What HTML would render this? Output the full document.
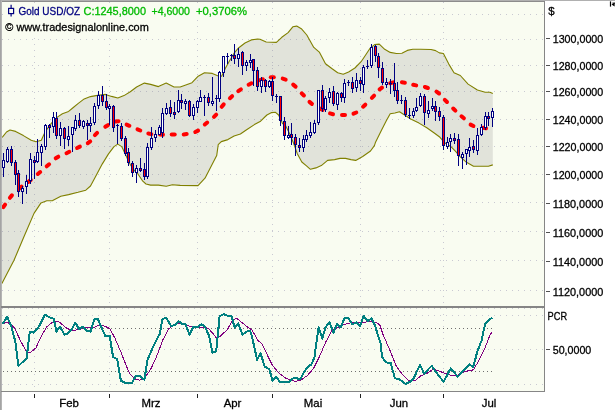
<!DOCTYPE html><html><head><meta charset="utf-8"><title>Gold USD/OZ</title>
<style>html,body{margin:0;padding:0;background:#fff;overflow:hidden}svg{display:block}text{font-family:"Liberation Sans",sans-serif;font-size:11.4px;stroke-width:0.3px;paint-order:stroke}</style></head><body>
<svg width="615" height="410" viewBox="0 0 615 410">
<rect x="0" y="0" width="615" height="410" fill="#ffffff"/>
<rect x="1" y="1" width="544" height="390.5" fill="#f9fcf1"/>
<g stroke="#c9c9d2" stroke-width="1" stroke-dasharray="1 5" shape-rendering="crispEdges"><line x1="2" x2="544" y1="14.5" y2="14.5"/><line x1="2" x2="544" y1="39.5" y2="39.5"/><line x1="2" x2="544" y1="65.5" y2="65.5"/><line x1="2" x2="544" y1="91.5" y2="91.5"/><line x1="2" x2="544" y1="119.5" y2="119.5"/><line x1="2" x2="544" y1="146.5" y2="146.5"/><line x1="2" x2="544" y1="174.5" y2="174.5"/><line x1="2" x2="544" y1="202.5" y2="202.5"/><line x1="2" x2="544" y1="231.5" y2="231.5"/><line x1="2" x2="544" y1="260.5" y2="260.5"/><line x1="2" x2="544" y1="290.5" y2="290.5"/><line x1="2" x2="544" y1="308.5" y2="308.5"/><line x1="2" x2="544" y1="315.5" y2="315.5"/><line x1="2" x2="544" y1="349.5" y2="349.5"/><line x1="2" x2="544" y1="384.5" y2="384.5"/></g>
<g stroke="#c9c9d2" stroke-width="1" stroke-dasharray="1 5" shape-rendering="crispEdges"><line x1="34.5" x2="34.5" y1="2" y2="306"/><line x1="34.5" x2="34.5" y1="314" y2="391"/><line x1="109.5" x2="109.5" y1="2" y2="306"/><line x1="109.5" x2="109.5" y1="314" y2="391"/><line x1="197.5" x2="197.5" y1="2" y2="306"/><line x1="197.5" x2="197.5" y1="314" y2="391"/><line x1="272.5" x2="272.5" y1="2" y2="306"/><line x1="272.5" x2="272.5" y1="314" y2="391"/><line x1="360.5" x2="360.5" y1="2" y2="306"/><line x1="360.5" x2="360.5" y1="314" y2="391"/><line x1="443.5" x2="443.5" y1="2" y2="306"/><line x1="443.5" x2="443.5" y1="314" y2="391"/></g>
<path d="M2.0,137.5 L3.0,136.4 L6.5,132.0 L10.0,130.0 L15.6,131.4 L23.4,135.6 L31.2,140.3 L36.0,141.8 L41.3,140.3 L45.2,131.7 L51.5,123.1 L57.7,116.9 L62.4,113.7 L68.6,111.4 L73.3,107.5 L78.0,103.6 L84.2,98.9 L90.5,96.6 L96.0,95.6 L105.4,94.4 L111.6,96.4 L117.8,98.0 L124.0,95.6 L130.3,91.7 L136.6,87.0 L144.4,83.1 L150.6,84.4 L158.4,86.6 L166.2,83.1 L174.0,87.0 L180.2,87.0 L186.5,84.7 L192.0,82.7 L198.2,76.2 L204.5,72.7 L212.3,73.4 L217.7,75.8 L221.6,76.2 L225.5,68.0 L229.4,61.0 L234.1,53.2 L238.8,47.7 L245.0,43.0 L251.3,39.9 L257.5,39.1 L260.0,39.3 L266.2,42.0 L276.4,42.4 L281.8,37.3 L288.1,32.6 L292.8,26.8 L296.7,26.1 L301.3,28.7 L306.8,35.0 L313.8,47.4 L319.3,52.1 L325.5,63.8 L331.8,68.5 L337.7,72.7 L343.2,74.2 L348.6,72.0 L354.9,68.0 L361.1,61.7 L365.8,54.7 L369.9,48.5 L374.6,44.6 L379.3,44.1 L384.7,49.3 L390.2,52.4 L396.4,53.5 L401.9,53.2 L407.3,50.4 L412.8,49.3 L420.6,49.3 L431.0,49.5 L435.6,50.6 L439.4,52.9 L443.4,53.5 L448.8,64.1 L454.0,72.8 L460.3,75.5 L468.1,84.1 L477.4,90.0 L485.2,92.2 L489.9,92.3 L492.8,93.4 L492.8,164.9 L488.4,166.2 L480.6,166.2 L473.5,166.2 L466.5,162.3 L460.3,156.8 L455.6,151.3 L450.9,146.7 L444.7,142.8 L440.0,137.3 L434.6,133.2 L426.8,127.8 L419.0,123.1 L411.2,119.2 L405.0,115.3 L399.5,111.7 L394.9,113.0 L390.2,113.7 L386.3,120.8 L381.6,130.1 L375.4,142.6 L374.4,145.6 L370.5,151.0 L362.7,156.5 L355.7,160.4 L351.0,159.6 L345.5,158.4 L340.0,158.4 L334.6,159.6 L327.6,160.4 L321.3,165.6 L315.9,167.9 L310.4,169.3 L306.5,165.9 L301.8,162.0 L297.2,153.4 L293.3,142.5 L289.4,133.3 L285.5,125.5 L282.5,123.5 L278.6,115.0 L275.5,112.3 L271.6,112.6 L266.9,115.0 L260.6,121.2 L254.4,124.6 L246.6,129.8 L240.4,134.0 L234.1,136.0 L227.9,139.6 L221.3,141.6 L218.2,144.7 L216.7,155.6 L205.0,178.2 L198.0,185.6 L180.2,185.4 L172.4,184.7 L166.2,186.2 L158.4,185.1 L150.6,185.1 L146.0,184.0 L142.8,181.2 L138.1,174.2 L133.4,169.5 L129.5,163.3 L125.6,154.7 L121.7,146.6 L117.8,144.1 L114.0,146.6 L108.5,153.9 L102.2,164.1 L96.0,175.8 L90.5,186.0 L85.8,190.2 L78.0,192.3 L68.6,194.6 L60.8,196.2 L52.7,200.6 L46.8,200.7 L41.0,202.9 L34.0,213.4 L23.4,238.0 L14.0,260.3 L2.8,281.8 L2.0,283.5Z" fill="#808080" fill-opacity="0.2" stroke="none"/>
<path d="M2.0,137.5 L3.0,136.4 L6.5,132.0 L10.0,130.0 L15.6,131.4 L23.4,135.6 L31.2,140.3 L36.0,141.8 L41.3,140.3 L45.2,131.7 L51.5,123.1 L57.7,116.9 L62.4,113.7 L68.6,111.4 L73.3,107.5 L78.0,103.6 L84.2,98.9 L90.5,96.6 L96.0,95.6 L105.4,94.4 L111.6,96.4 L117.8,98.0 L124.0,95.6 L130.3,91.7 L136.6,87.0 L144.4,83.1 L150.6,84.4 L158.4,86.6 L166.2,83.1 L174.0,87.0 L180.2,87.0 L186.5,84.7 L192.0,82.7 L198.2,76.2 L204.5,72.7 L212.3,73.4 L217.7,75.8 L221.6,76.2 L225.5,68.0 L229.4,61.0 L234.1,53.2 L238.8,47.7 L245.0,43.0 L251.3,39.9 L257.5,39.1 L260.0,39.3 L266.2,42.0 L276.4,42.4 L281.8,37.3 L288.1,32.6 L292.8,26.8 L296.7,26.1 L301.3,28.7 L306.8,35.0 L313.8,47.4 L319.3,52.1 L325.5,63.8 L331.8,68.5 L337.7,72.7 L343.2,74.2 L348.6,72.0 L354.9,68.0 L361.1,61.7 L365.8,54.7 L369.9,48.5 L374.6,44.6 L379.3,44.1 L384.7,49.3 L390.2,52.4 L396.4,53.5 L401.9,53.2 L407.3,50.4 L412.8,49.3 L420.6,49.3 L431.0,49.5 L435.6,50.6 L439.4,52.9 L443.4,53.5 L448.8,64.1 L454.0,72.8 L460.3,75.5 L468.1,84.1 L477.4,90.0 L485.2,92.2 L489.9,92.3 L492.8,93.4" fill="none" stroke="#808000" stroke-width="1.1" stroke-linejoin="round"/>
<path d="M2.0,283.5 L2.8,281.8 L14.0,260.3 L23.4,238.0 L34.0,213.4 L41.0,202.9 L46.8,200.7 L52.7,200.6 L60.8,196.2 L68.6,194.6 L78.0,192.3 L85.8,190.2 L90.5,186.0 L96.0,175.8 L102.2,164.1 L108.5,153.9 L114.0,146.6 L117.8,144.1 L121.7,146.6 L125.6,154.7 L129.5,163.3 L133.4,169.5 L138.1,174.2 L142.8,181.2 L146.0,184.0 L150.6,185.1 L158.4,185.1 L166.2,186.2 L172.4,184.7 L180.2,185.4 L198.0,185.6 L205.0,178.2 L216.7,155.6 L218.2,144.7 L221.3,141.6 L227.9,139.6 L234.1,136.0 L240.4,134.0 L246.6,129.8 L254.4,124.6 L260.6,121.2 L266.9,115.0 L271.6,112.6 L275.5,112.3 L278.6,115.0 L282.5,123.5 L285.5,125.5 L289.4,133.3 L293.3,142.5 L297.2,153.4 L301.8,162.0 L306.5,165.9 L310.4,169.3 L315.9,167.9 L321.3,165.6 L327.6,160.4 L334.6,159.6 L340.0,158.4 L345.5,158.4 L351.0,159.6 L355.7,160.4 L362.7,156.5 L370.5,151.0 L374.4,145.6 L375.4,142.6 L381.6,130.1 L386.3,120.8 L390.2,113.7 L394.9,113.0 L399.5,111.7 L405.0,115.3 L411.2,119.2 L419.0,123.1 L426.8,127.8 L434.6,133.2 L440.0,137.3 L444.7,142.8 L450.9,146.7 L455.6,151.3 L460.3,156.8 L466.5,162.3 L473.5,166.2 L480.6,166.2 L488.4,166.2 L492.8,164.9" fill="none" stroke="#808000" stroke-width="1.1" stroke-linejoin="round"/>
<g stroke="#ff0000" stroke-width="4" stroke-linecap="round"><line x1="3.3" y1="207.2" x2="5.1" y2="204.6"/><line x1="9.9" y1="197.8" x2="11.9" y2="195.4"/><line x1="19.1" y1="188.6" x2="21.5" y2="186.6"/><line x1="28.4" y1="181.9" x2="30.8" y2="179.9"/><line x1="37.8" y1="174.0" x2="40.2" y2="172.0"/><line x1="46.7" y1="166.3" x2="49.1" y2="164.3"/><line x1="55.7" y1="158.3" x2="58.3" y2="156.7"/><line x1="66.5" y1="153.2" x2="69.3" y2="151.8"/><line x1="77.1" y1="148.0" x2="79.9" y2="146.6"/><line x1="87.8" y1="143.2" x2="90.2" y2="141.4"/><line x1="94.9" y1="135.1" x2="97.1" y2="132.9"/><line x1="105.3" y1="126.8" x2="107.9" y2="125.2"/><line x1="115.5" y1="121.4" x2="118.5" y2="121.2"/><line x1="126.6" y1="124.6" x2="129.4" y2="125.8"/><line x1="137.5" y1="129.3" x2="140.3" y2="130.5"/><line x1="148.3" y1="133.5" x2="151.3" y2="134.1"/><line x1="160.0" y1="134.5" x2="163.0" y2="134.7"/><line x1="171.7" y1="134.6" x2="174.7" y2="134.6"/><line x1="183.7" y1="134.5" x2="186.7" y2="134.1"/><line x1="195.3" y1="132.0" x2="198.1" y2="130.6"/><line x1="204.8" y1="124.5" x2="207.2" y2="122.5"/><line x1="214.0" y1="116.8" x2="216.2" y2="114.6"/><line x1="221.7" y1="106.8" x2="223.7" y2="104.4"/><line x1="229.9" y1="98.2" x2="232.1" y2="96.2"/><line x1="238.3" y1="91.2" x2="240.9" y2="89.4"/><line x1="248.6" y1="84.7" x2="251.4" y2="83.3"/><line x1="259.9" y1="80.1" x2="262.9" y2="79.3"/><line x1="270.8" y1="77.3" x2="273.8" y2="77.3"/><line x1="282.7" y1="78.6" x2="285.7" y2="79.6"/><line x1="293.2" y1="84.6" x2="295.6" y2="86.6"/><line x1="301.7" y1="93.3" x2="303.9" y2="95.5"/><line x1="309.5" y1="101.9" x2="311.9" y2="103.9"/><line x1="319.9" y1="108.5" x2="322.7" y2="109.9"/><line x1="330.0" y1="113.4" x2="333.0" y2="114.2"/><line x1="342.0" y1="115.1" x2="345.0" y2="115.1"/><line x1="353.5" y1="113.7" x2="356.3" y2="112.5"/><line x1="363.1" y1="106.7" x2="365.3" y2="104.7"/><line x1="371.9" y1="97.8" x2="374.1" y2="95.6"/><line x1="379.6" y1="89.4" x2="382.0" y2="87.6"/><line x1="390.2" y1="83.2" x2="393.2" y2="82.4"/><line x1="401.9" y1="82.3" x2="404.9" y2="82.7"/><line x1="413.2" y1="84.8" x2="416.2" y2="85.4"/><line x1="424.9" y1="87.0" x2="427.9" y2="88.0"/><line x1="436.5" y1="91.7" x2="439.1" y2="93.5"/><line x1="444.8" y1="99.8" x2="447.0" y2="102.0"/><line x1="453.2" y1="108.5" x2="455.4" y2="110.7"/><line x1="461.5" y1="116.3" x2="463.9" y2="118.3"/><line x1="470.6" y1="124.6" x2="473.4" y2="126.0"/><line x1="483.0" y1="127.7" x2="486.0" y2="128.3"/></g>
<g shape-rendering="crispEdges"><rect x="3" y="153" width="1" height="24" fill="#000080"/><rect x="2" y="160" width="3" height="8" fill="#000080"/><rect x="3" y="161" width="1" height="6" fill="#ffffff"/><rect x="7" y="147" width="1" height="16" fill="#000080"/><rect x="6" y="149" width="3" height="13" fill="#000080"/><rect x="7" y="150" width="1" height="11" fill="#ffffff"/><rect x="11" y="146" width="1" height="20" fill="#000080"/><rect x="10" y="149" width="3" height="14" fill="#000080"/><rect x="11" y="150" width="1" height="12" fill="#ff0000"/><rect x="15" y="160" width="1" height="25" fill="#000080"/><rect x="14" y="162" width="3" height="13" fill="#000080"/><rect x="15" y="163" width="1" height="11" fill="#ff0000"/><rect x="18" y="170" width="1" height="27" fill="#000080"/><rect x="17" y="173" width="3" height="19" fill="#000080"/><rect x="18" y="174" width="1" height="17" fill="#ff0000"/><rect x="22" y="186" width="1" height="18" fill="#000080"/><rect x="21" y="188" width="3" height="4" fill="#000080"/><rect x="22" y="189" width="1" height="2" fill="#ffffff"/><rect x="26" y="175" width="1" height="19" fill="#000080"/><rect x="25" y="181" width="3" height="6" fill="#000080"/><rect x="26" y="182" width="1" height="4" fill="#ffffff"/><rect x="30" y="153" width="1" height="31" fill="#000080"/><rect x="29" y="159" width="3" height="22" fill="#000080"/><rect x="30" y="160" width="1" height="20" fill="#ffffff"/><rect x="34" y="156" width="1" height="23" fill="#000080"/><rect x="33" y="160" width="3" height="3" fill="#000080"/><rect x="34" y="161" width="1" height="1" fill="#ff0000"/><rect x="37" y="139" width="1" height="24" fill="#000080"/><rect x="36" y="152" width="3" height="10" fill="#000080"/><rect x="37" y="153" width="1" height="8" fill="#ffffff"/><rect x="41" y="144" width="1" height="22" fill="#000080"/><rect x="40" y="146" width="3" height="7" fill="#000080"/><rect x="41" y="147" width="1" height="5" fill="#ffffff"/><rect x="45" y="124" width="1" height="26" fill="#000080"/><rect x="44" y="125" width="3" height="22" fill="#000080"/><rect x="45" y="126" width="1" height="20" fill="#ffffff"/><rect x="49" y="124" width="1" height="14" fill="#000080"/><rect x="48" y="125" width="3" height="3" fill="#000080"/><rect x="49" y="126" width="1" height="1" fill="#ff0000"/><rect x="53" y="112" width="1" height="21" fill="#000080"/><rect x="52" y="117" width="3" height="10" fill="#000080"/><rect x="53" y="118" width="1" height="8" fill="#ffffff"/><rect x="56" y="112" width="1" height="27" fill="#000080"/><rect x="55" y="118" width="3" height="18" fill="#000080"/><rect x="56" y="119" width="1" height="16" fill="#ff0000"/><rect x="60" y="122" width="1" height="24" fill="#000080"/><rect x="59" y="128" width="3" height="8" fill="#000080"/><rect x="60" y="129" width="1" height="6" fill="#ffffff"/><rect x="64" y="127" width="1" height="22" fill="#000080"/><rect x="63" y="128" width="3" height="11" fill="#000080"/><rect x="64" y="129" width="1" height="9" fill="#ff0000"/><rect x="68" y="126" width="1" height="20" fill="#000080"/><rect x="67" y="136" width="3" height="4" fill="#000080"/><rect x="68" y="137" width="1" height="2" fill="#ffffff"/><rect x="72" y="127" width="1" height="25" fill="#000080"/><rect x="71" y="127" width="3" height="8" fill="#000080"/><rect x="72" y="128" width="1" height="6" fill="#ffffff"/><rect x="75" y="115" width="1" height="16" fill="#000080"/><rect x="74" y="120" width="3" height="9" fill="#000080"/><rect x="75" y="121" width="1" height="7" fill="#ffffff"/><rect x="79" y="113" width="1" height="15" fill="#000080"/><rect x="78" y="120" width="3" height="6" fill="#000080"/><rect x="79" y="121" width="1" height="4" fill="#ff0000"/><rect x="83" y="120" width="1" height="9" fill="#000080"/><rect x="82" y="121" width="3" height="6" fill="#000080"/><rect x="83" y="122" width="1" height="4" fill="#ffffff"/><rect x="87" y="120" width="1" height="20" fill="#000080"/><rect x="86" y="123" width="3" height="3" fill="#000080"/><rect x="87" y="124" width="1" height="1" fill="#ff0000"/><rect x="90" y="117" width="1" height="15" fill="#000080"/><rect x="89" y="123" width="3" height="3" fill="#000080"/><rect x="90" y="124" width="1" height="1" fill="#ffffff"/><rect x="94" y="103" width="1" height="22" fill="#000080"/><rect x="93" y="106" width="3" height="17" fill="#000080"/><rect x="94" y="107" width="1" height="15" fill="#ffffff"/><rect x="98" y="91" width="1" height="18" fill="#000080"/><rect x="97" y="95" width="3" height="11" fill="#000080"/><rect x="98" y="96" width="1" height="9" fill="#ffffff"/><rect x="102" y="86" width="1" height="20" fill="#000080"/><rect x="101" y="95" width="3" height="7" fill="#000080"/><rect x="102" y="96" width="1" height="5" fill="#ff0000"/><rect x="106" y="94" width="1" height="16" fill="#000080"/><rect x="105" y="101" width="3" height="7" fill="#000080"/><rect x="106" y="102" width="1" height="5" fill="#ff0000"/><rect x="109" y="104" width="1" height="21" fill="#000080"/><rect x="108" y="106" width="3" height="3" fill="#000080"/><rect x="109" y="107" width="1" height="1" fill="#ffffff"/><rect x="113" y="105" width="1" height="27" fill="#000080"/><rect x="112" y="106" width="3" height="22" fill="#000080"/><rect x="113" y="107" width="1" height="20" fill="#ff0000"/><rect x="117" y="124" width="1" height="20" fill="#000080"/><rect x="116" y="125" width="3" height="1" fill="#000080"/><rect x="121" y="123" width="1" height="18" fill="#000080"/><rect x="120" y="126" width="3" height="13" fill="#000080"/><rect x="121" y="127" width="1" height="11" fill="#ff0000"/><rect x="125" y="136" width="1" height="20" fill="#000080"/><rect x="124" y="138" width="3" height="16" fill="#000080"/><rect x="125" y="139" width="1" height="14" fill="#ff0000"/><rect x="128" y="148" width="1" height="18" fill="#000080"/><rect x="127" y="152" width="3" height="11" fill="#000080"/><rect x="128" y="153" width="1" height="9" fill="#ff0000"/><rect x="132" y="161" width="1" height="16" fill="#000080"/><rect x="131" y="163" width="3" height="10" fill="#000080"/><rect x="132" y="164" width="1" height="8" fill="#ff0000"/><rect x="136" y="165" width="1" height="18" fill="#000080"/><rect x="135" y="168" width="3" height="5" fill="#000080"/><rect x="136" y="169" width="1" height="3" fill="#ffffff"/><rect x="140" y="158" width="1" height="14" fill="#000080"/><rect x="139" y="168" width="3" height="3" fill="#000080"/><rect x="140" y="169" width="1" height="1" fill="#ff0000"/><rect x="144" y="163" width="1" height="17" fill="#000080"/><rect x="143" y="169" width="3" height="8" fill="#000080"/><rect x="144" y="170" width="1" height="6" fill="#ff0000"/><rect x="147" y="143" width="1" height="36" fill="#000080"/><rect x="146" y="147" width="3" height="30" fill="#000080"/><rect x="147" y="148" width="1" height="28" fill="#ffffff"/><rect x="151" y="127" width="1" height="23" fill="#000080"/><rect x="150" y="138" width="3" height="10" fill="#000080"/><rect x="151" y="139" width="1" height="8" fill="#ffffff"/><rect x="155" y="130" width="1" height="12" fill="#000080"/><rect x="154" y="134" width="3" height="4" fill="#000080"/><rect x="155" y="135" width="1" height="2" fill="#ffffff"/><rect x="159" y="125" width="1" height="10" fill="#000080"/><rect x="158" y="127" width="3" height="8" fill="#000080"/><rect x="159" y="128" width="1" height="6" fill="#ffffff"/><rect x="162" y="108" width="1" height="30" fill="#000080"/><rect x="161" y="113" width="3" height="20" fill="#000080"/><rect x="162" y="114" width="1" height="18" fill="#ffffff"/><rect x="166" y="103" width="1" height="12" fill="#000080"/><rect x="165" y="108" width="3" height="6" fill="#000080"/><rect x="166" y="109" width="1" height="4" fill="#ffffff"/><rect x="170" y="100" width="1" height="17" fill="#000080"/><rect x="169" y="107" width="3" height="7" fill="#000080"/><rect x="170" y="108" width="1" height="5" fill="#ff0000"/><rect x="174" y="102" width="1" height="17" fill="#000080"/><rect x="173" y="112" width="3" height="3" fill="#000080"/><rect x="174" y="113" width="1" height="1" fill="#ff0000"/><rect x="178" y="90" width="1" height="23" fill="#000080"/><rect x="177" y="100" width="3" height="12" fill="#000080"/><rect x="178" y="101" width="1" height="10" fill="#ffffff"/><rect x="181" y="94" width="1" height="15" fill="#000080"/><rect x="180" y="100" width="3" height="3" fill="#000080"/><rect x="181" y="101" width="1" height="1" fill="#ff0000"/><rect x="185" y="99" width="1" height="11" fill="#000080"/><rect x="184" y="101" width="3" height="3" fill="#000080"/><rect x="185" y="102" width="1" height="1" fill="#ffffff"/><rect x="189" y="100" width="1" height="17" fill="#000080"/><rect x="188" y="101" width="3" height="15" fill="#000080"/><rect x="189" y="102" width="1" height="13" fill="#ff0000"/><rect x="193" y="104" width="1" height="16" fill="#000080"/><rect x="192" y="107" width="3" height="9" fill="#000080"/><rect x="193" y="108" width="1" height="7" fill="#ffffff"/><rect x="197" y="100" width="1" height="13" fill="#000080"/><rect x="196" y="101" width="3" height="7" fill="#000080"/><rect x="197" y="102" width="1" height="5" fill="#ffffff"/><rect x="200" y="90" width="1" height="12" fill="#000080"/><rect x="199" y="97" width="3" height="5" fill="#000080"/><rect x="200" y="98" width="1" height="3" fill="#ffffff"/><rect x="204" y="95" width="1" height="21" fill="#000080"/><rect x="203" y="97" width="3" height="1" fill="#000080"/><rect x="208" y="93" width="1" height="13" fill="#000080"/><rect x="207" y="97" width="3" height="6" fill="#000080"/><rect x="208" y="98" width="1" height="4" fill="#ff0000"/><rect x="212" y="77" width="1" height="29" fill="#000080"/><rect x="211" y="101" width="3" height="3" fill="#000080"/><rect x="212" y="102" width="1" height="1" fill="#ffffff"/><rect x="216" y="95" width="1" height="16" fill="#000080"/><rect x="215" y="98" width="3" height="1" fill="#000080"/><rect x="219" y="71" width="1" height="31" fill="#000080"/><rect x="218" y="72" width="3" height="27" fill="#000080"/><rect x="219" y="73" width="1" height="25" fill="#ffffff"/><rect x="223" y="56" width="1" height="21" fill="#000080"/><rect x="222" y="56" width="3" height="17" fill="#000080"/><rect x="223" y="57" width="1" height="15" fill="#ffffff"/><rect x="227" y="53" width="1" height="11" fill="#000080"/><rect x="226" y="56" width="3" height="1" fill="#000080"/><rect x="231" y="54" width="1" height="7" fill="#000080"/><rect x="230" y="55" width="3" height="1" fill="#000080"/><rect x="234" y="44" width="1" height="20" fill="#000080"/><rect x="233" y="55" width="3" height="4" fill="#000080"/><rect x="234" y="56" width="1" height="2" fill="#ff0000"/><rect x="238" y="48" width="1" height="19" fill="#000080"/><rect x="237" y="54" width="3" height="5" fill="#000080"/><rect x="238" y="55" width="1" height="3" fill="#ffffff"/><rect x="242" y="51" width="1" height="24" fill="#000080"/><rect x="241" y="52" width="3" height="14" fill="#000080"/><rect x="242" y="53" width="1" height="12" fill="#ff0000"/><rect x="246" y="60" width="1" height="11" fill="#000080"/><rect x="245" y="62" width="3" height="4" fill="#000080"/><rect x="246" y="63" width="1" height="2" fill="#ffffff"/><rect x="250" y="54" width="1" height="14" fill="#000080"/><rect x="249" y="60" width="3" height="3" fill="#000080"/><rect x="250" y="61" width="1" height="1" fill="#ffffff"/><rect x="253" y="59" width="1" height="27" fill="#000080"/><rect x="252" y="59" width="3" height="12" fill="#000080"/><rect x="253" y="60" width="1" height="10" fill="#ff0000"/><rect x="257" y="67" width="1" height="24" fill="#000080"/><rect x="256" y="70" width="3" height="17" fill="#000080"/><rect x="257" y="71" width="1" height="15" fill="#ff0000"/><rect x="261" y="77" width="1" height="16" fill="#000080"/><rect x="260" y="80" width="3" height="7" fill="#000080"/><rect x="261" y="81" width="1" height="5" fill="#ffffff"/><rect x="265" y="79" width="1" height="13" fill="#000080"/><rect x="264" y="80" width="3" height="7" fill="#000080"/><rect x="265" y="81" width="1" height="5" fill="#ff0000"/><rect x="269" y="80" width="1" height="8" fill="#000080"/><rect x="268" y="81" width="3" height="6" fill="#000080"/><rect x="269" y="82" width="1" height="4" fill="#ffffff"/><rect x="272" y="77" width="1" height="24" fill="#000080"/><rect x="271" y="81" width="3" height="15" fill="#000080"/><rect x="272" y="82" width="1" height="13" fill="#ff0000"/><rect x="276" y="94" width="1" height="9" fill="#000080"/><rect x="275" y="96" width="3" height="1" fill="#000080"/><rect x="280" y="96" width="1" height="30" fill="#000080"/><rect x="279" y="96" width="3" height="25" fill="#000080"/><rect x="280" y="97" width="1" height="23" fill="#ff0000"/><rect x="284" y="117" width="1" height="23" fill="#000080"/><rect x="283" y="121" width="3" height="15" fill="#000080"/><rect x="284" y="122" width="1" height="13" fill="#ff0000"/><rect x="288" y="126" width="1" height="13" fill="#000080"/><rect x="287" y="135" width="3" height="3" fill="#000080"/><rect x="288" y="136" width="1" height="1" fill="#ffffff"/><rect x="291" y="123" width="1" height="22" fill="#000080"/><rect x="290" y="134" width="3" height="4" fill="#000080"/><rect x="291" y="135" width="1" height="2" fill="#ff0000"/><rect x="295" y="134" width="1" height="22" fill="#000080"/><rect x="294" y="137" width="3" height="8" fill="#000080"/><rect x="295" y="138" width="1" height="6" fill="#ff0000"/><rect x="299" y="138" width="1" height="14" fill="#000080"/><rect x="298" y="145" width="3" height="3" fill="#000080"/><rect x="299" y="146" width="1" height="1" fill="#ff0000"/><rect x="303" y="135" width="1" height="17" fill="#000080"/><rect x="302" y="139" width="3" height="9" fill="#000080"/><rect x="303" y="140" width="1" height="7" fill="#ffffff"/><rect x="306" y="130" width="1" height="12" fill="#000080"/><rect x="305" y="135" width="3" height="5" fill="#000080"/><rect x="306" y="136" width="1" height="3" fill="#ffffff"/><rect x="310" y="122" width="1" height="16" fill="#000080"/><rect x="309" y="132" width="3" height="4" fill="#000080"/><rect x="310" y="133" width="1" height="2" fill="#ffffff"/><rect x="314" y="120" width="1" height="14" fill="#000080"/><rect x="313" y="123" width="3" height="10" fill="#000080"/><rect x="314" y="124" width="1" height="8" fill="#ffffff"/><rect x="318" y="90" width="1" height="35" fill="#000080"/><rect x="317" y="90" width="3" height="33" fill="#000080"/><rect x="318" y="91" width="1" height="31" fill="#ffffff"/><rect x="322" y="85" width="1" height="27" fill="#000080"/><rect x="321" y="90" width="3" height="19" fill="#000080"/><rect x="322" y="91" width="1" height="17" fill="#ff0000"/><rect x="325" y="96" width="1" height="16" fill="#000080"/><rect x="324" y="98" width="3" height="12" fill="#000080"/><rect x="325" y="99" width="1" height="10" fill="#ffffff"/><rect x="329" y="88" width="1" height="15" fill="#000080"/><rect x="328" y="92" width="3" height="6" fill="#000080"/><rect x="329" y="93" width="1" height="4" fill="#ffffff"/><rect x="333" y="86" width="1" height="20" fill="#000080"/><rect x="332" y="91" width="3" height="13" fill="#000080"/><rect x="333" y="92" width="1" height="11" fill="#ff0000"/><rect x="337" y="92" width="1" height="18" fill="#000080"/><rect x="336" y="93" width="3" height="12" fill="#000080"/><rect x="337" y="94" width="1" height="10" fill="#ffffff"/><rect x="341" y="92" width="1" height="10" fill="#000080"/><rect x="340" y="93" width="3" height="5" fill="#000080"/><rect x="341" y="94" width="1" height="3" fill="#ff0000"/><rect x="344" y="79" width="1" height="24" fill="#000080"/><rect x="343" y="83" width="3" height="15" fill="#000080"/><rect x="344" y="84" width="1" height="13" fill="#ffffff"/><rect x="348" y="80" width="1" height="6" fill="#000080"/><rect x="347" y="82" width="3" height="1" fill="#000080"/><rect x="352" y="77" width="1" height="16" fill="#000080"/><rect x="351" y="82" width="3" height="7" fill="#000080"/><rect x="352" y="83" width="1" height="5" fill="#ff0000"/><rect x="356" y="73" width="1" height="19" fill="#000080"/><rect x="355" y="80" width="3" height="8" fill="#000080"/><rect x="356" y="81" width="1" height="6" fill="#ffffff"/><rect x="360" y="77" width="1" height="14" fill="#000080"/><rect x="359" y="80" width="3" height="4" fill="#000080"/><rect x="360" y="81" width="1" height="2" fill="#ff0000"/><rect x="363" y="65" width="1" height="28" fill="#000080"/><rect x="362" y="67" width="3" height="18" fill="#000080"/><rect x="363" y="68" width="1" height="16" fill="#ffffff"/><rect x="367" y="60" width="1" height="9" fill="#000080"/><rect x="366" y="66" width="3" height="1" fill="#000080"/><rect x="371" y="44" width="1" height="24" fill="#000080"/><rect x="370" y="47" width="3" height="19" fill="#000080"/><rect x="371" y="48" width="1" height="17" fill="#ffffff"/><rect x="375" y="45" width="1" height="17" fill="#000080"/><rect x="374" y="46" width="3" height="10" fill="#000080"/><rect x="375" y="47" width="1" height="8" fill="#ff0000"/><rect x="378" y="53" width="1" height="25" fill="#000080"/><rect x="377" y="56" width="3" height="12" fill="#000080"/><rect x="378" y="57" width="1" height="10" fill="#ff0000"/><rect x="382" y="62" width="1" height="23" fill="#000080"/><rect x="381" y="68" width="3" height="15" fill="#000080"/><rect x="382" y="69" width="1" height="13" fill="#ff0000"/><rect x="386" y="78" width="1" height="10" fill="#000080"/><rect x="385" y="82" width="3" height="3" fill="#000080"/><rect x="386" y="83" width="1" height="1" fill="#ffffff"/><rect x="390" y="79" width="1" height="15" fill="#000080"/><rect x="389" y="83" width="3" height="1" fill="#000080"/><rect x="394" y="63" width="1" height="34" fill="#000080"/><rect x="393" y="83" width="3" height="8" fill="#000080"/><rect x="394" y="84" width="1" height="6" fill="#ff0000"/><rect x="397" y="82" width="1" height="22" fill="#000080"/><rect x="396" y="90" width="3" height="11" fill="#000080"/><rect x="397" y="91" width="1" height="9" fill="#ff0000"/><rect x="401" y="95" width="1" height="9" fill="#000080"/><rect x="400" y="100" width="3" height="1" fill="#000080"/><rect x="405" y="97" width="1" height="20" fill="#000080"/><rect x="404" y="100" width="3" height="15" fill="#000080"/><rect x="405" y="101" width="1" height="13" fill="#ff0000"/><rect x="409" y="108" width="1" height="11" fill="#000080"/><rect x="408" y="115" width="3" height="1" fill="#000080"/><rect x="413" y="108" width="1" height="10" fill="#000080"/><rect x="412" y="111" width="3" height="5" fill="#000080"/><rect x="413" y="112" width="1" height="3" fill="#ffffff"/><rect x="416" y="98" width="1" height="14" fill="#000080"/><rect x="415" y="107" width="3" height="4" fill="#000080"/><rect x="416" y="108" width="1" height="2" fill="#ffffff"/><rect x="420" y="93" width="1" height="14" fill="#000080"/><rect x="419" y="96" width="3" height="10" fill="#000080"/><rect x="420" y="97" width="1" height="8" fill="#ffffff"/><rect x="424" y="94" width="1" height="31" fill="#000080"/><rect x="423" y="96" width="3" height="17" fill="#000080"/><rect x="424" y="97" width="1" height="15" fill="#ff0000"/><rect x="428" y="101" width="1" height="17" fill="#000080"/><rect x="427" y="110" width="3" height="4" fill="#000080"/><rect x="428" y="111" width="1" height="2" fill="#ffffff"/><rect x="432" y="98" width="1" height="13" fill="#000080"/><rect x="431" y="106" width="3" height="3" fill="#000080"/><rect x="432" y="107" width="1" height="1" fill="#ffffff"/><rect x="435" y="101" width="1" height="20" fill="#000080"/><rect x="434" y="106" width="3" height="6" fill="#000080"/><rect x="435" y="107" width="1" height="4" fill="#ff0000"/><rect x="439" y="107" width="1" height="14" fill="#000080"/><rect x="438" y="111" width="3" height="6" fill="#000080"/><rect x="439" y="112" width="1" height="4" fill="#ff0000"/><rect x="443" y="115" width="1" height="35" fill="#000080"/><rect x="442" y="117" width="3" height="29" fill="#000080"/><rect x="443" y="118" width="1" height="27" fill="#ff0000"/><rect x="447" y="137" width="1" height="12" fill="#000080"/><rect x="446" y="142" width="3" height="5" fill="#000080"/><rect x="447" y="143" width="1" height="3" fill="#ffffff"/><rect x="450" y="134" width="1" height="18" fill="#000080"/><rect x="449" y="138" width="3" height="4" fill="#000080"/><rect x="450" y="139" width="1" height="2" fill="#ffffff"/><rect x="454" y="133" width="1" height="11" fill="#000080"/><rect x="453" y="138" width="3" height="3" fill="#000080"/><rect x="454" y="139" width="1" height="1" fill="#ff0000"/><rect x="458" y="134" width="1" height="32" fill="#000080"/><rect x="457" y="139" width="3" height="17" fill="#000080"/><rect x="458" y="140" width="1" height="15" fill="#ff0000"/><rect x="462" y="152" width="1" height="17" fill="#000080"/><rect x="461" y="154" width="3" height="4" fill="#000080"/><rect x="462" y="155" width="1" height="2" fill="#ffffff"/><rect x="466" y="149" width="1" height="16" fill="#000080"/><rect x="465" y="149" width="3" height="5" fill="#000080"/><rect x="466" y="150" width="1" height="3" fill="#ffffff"/><rect x="469" y="138" width="1" height="19" fill="#000080"/><rect x="468" y="147" width="3" height="4" fill="#000080"/><rect x="469" y="148" width="1" height="2" fill="#ffffff"/><rect x="473" y="140" width="1" height="13" fill="#000080"/><rect x="472" y="146" width="3" height="4" fill="#000080"/><rect x="473" y="147" width="1" height="2" fill="#ff0000"/><rect x="477" y="128" width="1" height="27" fill="#000080"/><rect x="476" y="135" width="3" height="16" fill="#000080"/><rect x="477" y="136" width="1" height="14" fill="#ffffff"/><rect x="481" y="124" width="1" height="12" fill="#000080"/><rect x="480" y="127" width="3" height="8" fill="#000080"/><rect x="481" y="128" width="1" height="6" fill="#ffffff"/><rect x="485" y="112" width="1" height="18" fill="#000080"/><rect x="484" y="116" width="3" height="12" fill="#000080"/><rect x="485" y="117" width="1" height="10" fill="#ffffff"/><rect x="488" y="112" width="1" height="14" fill="#000080"/><rect x="487" y="116" width="3" height="3" fill="#000080"/><rect x="488" y="117" width="1" height="1" fill="#ff0000"/><rect x="492" y="108" width="1" height="19" fill="#000080"/><rect x="491" y="111" width="3" height="7" fill="#000080"/><rect x="492" y="112" width="1" height="5" fill="#ffffff"/></g>
<g stroke="#707070" stroke-width="1" stroke-dasharray="1 3" shape-rendering="crispEdges"><line x1="3" x2="493" y1="328.5" y2="328.5"/><line x1="3" x2="493" y1="371.5" y2="371.5"/></g>
<path d="M2.5,324.0 L7.2,322.0 L14.3,327.5 L20.5,340.8 L26.6,352.1 L30.7,352.1 L35.9,348.0 L41.0,336.7 L47.1,326.5 L53.7,321.4 L59.4,322.0 L65.6,327.5 L71.7,330.6 L78.9,329.6 L86.1,327.5 L92.2,328.1 L98.4,325.5 L104.5,326.1 L109.6,328.5 L114.8,337.8 L120.9,352.1 L126.0,365.0 L129.1,372.6 L134.2,378.7 L139.3,380.2 L144.4,378.1 L150.6,369.5 L156.7,356.2 L162.9,339.8 L169.0,328.5 L175.2,324.0 L181.3,323.4 L189.5,326.1 L197.7,326.9 L208.0,328.1 L213.1,333.7 L217.2,338.8 L222.3,334.3 L227.4,329.6 L232.6,319.9 L236.7,318.3 L241.8,322.4 L246.9,326.5 L252.0,330.0 L258.1,340.8 L262.2,343.9 L267.4,355.2 L272.5,365.4 L278.6,372.6 L284.8,377.7 L290.9,380.2 L296.1,381.4 L301.2,379.8 L307.3,375.7 L313.5,368.5 L319.6,356.2 L325.8,341.9 L331.9,330.6 L338.1,327.5 L344.2,324.4 L352.4,322.4 L362.7,322.4 L371.9,321.4 L378.0,323.4 L380.0,325.5 L383.1,334.7 L390.3,351.1 L396.4,366.5 L402.6,374.6 L408.7,380.8 L414.9,380.8 L421.0,375.7 L427.2,373.2 L433.3,369.1 L439.5,371.2 L445.6,373.6 L451.8,375.7 L457.9,375.3 L464.1,372.0 L469.2,370.5 L473.3,369.9 L478.4,361.3 L484.6,349.0 L489.7,335.7 L492.3,331.6" fill="none" stroke="#800080" stroke-width="1" stroke-linejoin="round" shape-rendering="crispEdges"/>
<path d="M2.5,324.0 L7.2,316.7 L11.3,326.5 L15.4,341.9 L18.4,366.0 L26.6,358.3 L29.7,332.2 L33.8,332.6 L38.9,326.5 L45.1,314.6 L49.2,317.3 L53.7,318.7 L56.4,331.6 L60.0,326.5 L64.5,334.7 L67.6,333.7 L71.7,329.6 L75.4,322.8 L78.9,329.0 L83.0,326.5 L87.1,331.0 L90.6,331.6 L94.3,319.3 L98.0,319.3 L101.4,327.5 L105.5,336.3 L109.6,335.7 L113.1,357.2 L117.2,358.9 L120.9,380.8 L125.0,382.8 L132.1,382.8 L135.8,376.1 L139.9,376.1 L144.4,379.8 L147.5,359.7 L152.6,348.0 L159.8,333.7 L162.5,318.7 L166.6,318.3 L171.1,326.1 L175.2,324.9 L178.9,321.4 L182.4,324.0 L185.4,324.0 L189.5,334.7 L193.2,326.9 L197.7,326.9 L201.4,324.4 L204.9,326.5 L209.0,335.7 L212.5,352.7 L216.2,351.5 L219.6,316.2 L223.9,314.2 L227.4,315.8 L231.5,315.8 L234.6,327.5 L238.3,323.4 L242.4,334.7 L246.9,331.6 L250.0,330.6 L252.0,336.7 L257.1,359.7 L260.6,353.5 L264.7,366.5 L269.4,369.5 L272.5,380.8 L276.2,376.7 L279.7,381.8 L288.9,381.8 L292.0,378.7 L296.1,378.1 L300.2,379.4 L304.3,371.6 L308.4,366.5 L311.4,364.4 L314.5,357.2 L316.5,341.9 L318.6,326.9 L322.3,338.8 L325.4,327.5 L329.5,322.0 L333.4,332.6 L337.0,324.0 L340.7,327.5 L344.6,317.9 L348.3,318.3 L352.4,324.4 L356.5,322.4 L360.0,326.5 L363.7,315.8 L367.8,321.4 L371.5,318.3 L375.0,325.5 L378.0,335.5 L380.5,342.9 L382.1,357.2 L386.2,362.4 L390.7,363.0 L394.8,378.1 L399.5,379.4 L405.7,383.9 L409.8,381.8 L413.9,377.7 L420.0,365.0 L424.1,373.6 L431.7,365.8 L436.4,372.6 L443.6,381.8 L450.7,368.5 L457.9,376.7 L469.2,364.4 L473.3,367.1 L477.4,351.1 L481.5,340.8 L485.0,324.4 L488.7,319.9 L492.3,317.9" fill="none" stroke="#008080" stroke-width="2" stroke-linejoin="round" shape-rendering="crispEdges"/>
<g shape-rendering="crispEdges">
<rect x="0" y="0" width="615" height="1" fill="#b0b0b0"/>
<rect x="0" y="1" width="545" height="1" fill="#8c8c8c"/>
<rect x="0" y="0" width="1" height="410" fill="#a4a4a4"/>
<rect x="1" y="1" width="1" height="409" fill="#b4b4b4"/>
<rect x="544" y="1" width="1" height="391" fill="#868686"/>
<rect x="1" y="391" width="544" height="1" fill="#868686"/>
<rect x="1" y="306" width="544" height="2" fill="#858585"/>
</g>
<rect x="546" y="38" width="4" height="1" fill="#505050"/><text x="552.7" y="42.6" font-size="11" textLength="50.6" lengthAdjust="spacingAndGlyphs" fill="#000000" stroke="#000000">1300,0000</text><rect x="546" y="65" width="4" height="1" fill="#505050"/><text x="552.7" y="69.6" font-size="11" textLength="50.6" lengthAdjust="spacingAndGlyphs" fill="#000000" stroke="#000000">1280,0000</text><rect x="546" y="91" width="4" height="1" fill="#505050"/><text x="552.7" y="95.6" font-size="11" textLength="50.6" lengthAdjust="spacingAndGlyphs" fill="#000000" stroke="#000000">1260,0000</text><rect x="546" y="119" width="4" height="1" fill="#505050"/><text x="552.7" y="123.6" font-size="11" textLength="50.6" lengthAdjust="spacingAndGlyphs" fill="#000000" stroke="#000000">1240,0000</text><rect x="546" y="146" width="4" height="1" fill="#505050"/><text x="552.7" y="150.6" font-size="11" textLength="50.6" lengthAdjust="spacingAndGlyphs" fill="#000000" stroke="#000000">1220,0000</text><rect x="546" y="174" width="4" height="1" fill="#505050"/><text x="552.7" y="178.6" font-size="11" textLength="50.6" lengthAdjust="spacingAndGlyphs" fill="#000000" stroke="#000000">1200,0000</text><rect x="546" y="203" width="4" height="1" fill="#505050"/><text x="552.7" y="207.6" font-size="11" textLength="50.6" lengthAdjust="spacingAndGlyphs" fill="#000000" stroke="#000000">1180,0000</text><rect x="546" y="232" width="4" height="1" fill="#505050"/><text x="552.7" y="236.6" font-size="11" textLength="50.6" lengthAdjust="spacingAndGlyphs" fill="#000000" stroke="#000000">1160,0000</text><rect x="546" y="261" width="4" height="1" fill="#505050"/><text x="552.7" y="265.6" font-size="11" textLength="50.6" lengthAdjust="spacingAndGlyphs" fill="#000000" stroke="#000000">1140,0000</text><rect x="546" y="291" width="4" height="1" fill="#505050"/><text x="552.7" y="295.6" font-size="11" textLength="50.6" lengthAdjust="spacingAndGlyphs" fill="#000000" stroke="#000000">1120,0000</text><rect x="546" y="349" width="4" height="1" fill="#505050"/><text x="552.7" y="353.6" font-size="11" textLength="38.6" lengthAdjust="spacingAndGlyphs" fill="#000000" stroke="#000000">50,0000</text><text x="547.6" y="320" textLength="19.5" lengthAdjust="spacingAndGlyphs" fill="#000000" stroke="#000000">PCR</text><text x="548.2" y="14.8" fill="#000000" stroke="#000000">$</text>
<rect x="34" y="394" width="1" height="4" fill="#202020"/><rect x="109" y="394" width="1" height="4" fill="#202020"/><rect x="197" y="394" width="1" height="4" fill="#202020"/><rect x="272" y="394" width="1" height="4" fill="#202020"/><rect x="360" y="394" width="1" height="4" fill="#202020"/><rect x="443" y="394" width="1" height="4" fill="#202020"/><text x="69" y="406.7" text-anchor="middle" fill="#000000" stroke="#000000">Feb</text><text x="151" y="406.7" text-anchor="middle" fill="#000000" stroke="#000000">Mrz</text><text x="232.5" y="406.7" text-anchor="middle" fill="#000000" stroke="#000000">Apr</text><text x="313" y="406.7" text-anchor="middle" fill="#000000" stroke="#000000">Mai</text><text x="399" y="406.7" text-anchor="middle" fill="#000000" stroke="#000000">Jun</text><text x="489" y="406.7" text-anchor="middle" fill="#000000" stroke="#000000">Jul</text>
<rect x="3" y="3" width="247" height="15.5" fill="#f9fcf1"/><rect x="3" y="18.5" width="148" height="15.5" fill="#f9fcf1"/>
<g fill="none" stroke="#000080" stroke-width="1.2"><rect x="8.6" y="8.4" width="5" height="5.2"/><line x1="11.1" x2="11.1" y1="4.8" y2="8.4"/><line x1="11.1" x2="11.1" y1="13.6" y2="16.6"/></g>
<g font-size="11.8">
<text x="18.5" y="14.7" textLength="61.5" lengthAdjust="spacingAndGlyphs" fill="#000080" stroke="#000080">Gold USD/OZ</text>
<text x="83.5" y="14.7" textLength="62.5" lengthAdjust="spacingAndGlyphs" fill="#00ba00" stroke="#00ba00">C:1245,8000</text>
<text x="151.5" y="14.7" textLength="38.5" lengthAdjust="spacingAndGlyphs" fill="#00ba00" stroke="#00ba00">+4,6000</text>
<text x="196" y="14.7" textLength="51" lengthAdjust="spacingAndGlyphs" fill="#00ba00" stroke="#00ba00">+0,3706%</text>
<text x="5.3" y="30.7" textLength="143.5" lengthAdjust="spacingAndGlyphs" fill="#000000" stroke="#000000">© www.tradesignalonline.com</text>
</g>
<g fill="#000000"><rect x="609.9" y="1.4" width="1.2" height="5.2"/><path d="M611.5,4.6 L614.6,2.7 L614.6,6.6Z"/><rect x="612.4" y="2.6" width="2.6" height="1"/></g>
</svg></body></html>
